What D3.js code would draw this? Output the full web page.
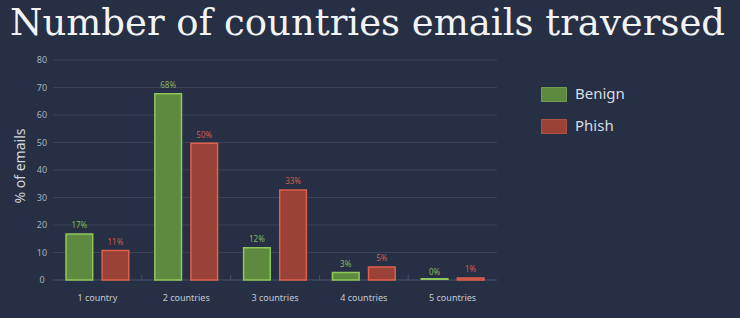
<!DOCTYPE html>
<html>
<head>
<meta charset="utf-8">
<script src="https://cdn.jsdelivr.net/npm/d3@7"></script>
<style>
    html, body { margin: 0; padding: 0; background: #262f44; }
    svg { display: block; }
    .tick-label { font-family: "Noto Sans", sans-serif; font-size: 9px; fill: #a9b1bf; }
    .cat-label { font-family: "Noto Sans", sans-serif; font-size: 9px; fill: #c3c9d3; }
    .value-label { font-family: "Noto Sans", sans-serif; font-size: 8px; }
</style>
</head>
<body>
<div id="chart"></div>
<script>
const categories = ["1 country", "2 countries", "3 countries", "4 countries", "5 countries"];
const series = ["Benign", "Phish"];
const benign = [17, 68, 12, 3, 0];
const phish = [11, 50, 33, 5, 1];
const yTicks = [0, 10, 20, 30, 40, 50, 60, 70, 80];

const fills = { Benign: "#5d8a3f", Phish: "#9b4238" };
const strokes = { Benign: "#8fc85a", Phish: "#e0604c" };
const labelColors = { Benign: "#86b85a", Phish: "#d45a4a" };

const W = 740, H = 318;
const margin = { top: 60, left: 53, bottom: 38, right: 243 };
const width = W - margin.left - margin.right;
const height = H - margin.top - margin.bottom;

const svg = d3.select("#chart").append("svg")
    .attr("width", W)
    .attr("height", H);

svg.append("rect").attr("width", W).attr("height", H).attr("fill", "#262f44");

// Title
svg.append("text")
    .attr("x", 10)
    .attr("y", 35)
    .attr("textLength", 715)
    .attr("lengthAdjust", "spacingAndGlyphs")
    .style("font-family", "'DejaVu Serif', serif")
    .style("font-size", "37px")
    .style("fill", "#f2f3f5")
    .text("Number of countries emails traversed");

const g = svg.append("g").attr("transform", `translate(${margin.left}, ${margin.top})`);

// Scales
const x0 = d3.scaleBand().domain(categories).range([0, width]).padding(0);
const x1 = d3.scaleBand().domain(series).range([0, x0.bandwidth()])
    .paddingInner(0.22).paddingOuter(0.34);
const y = d3.scaleLinear().domain([0, 80]).range([height, 0]);

// Grid lines
g.append("g")
    .selectAll("line")
    .data(yTicks.filter(d => d > 0))
    .join("line")
    .attr("x1", 0).attr("x2", width)
    .attr("y1", d => y(d)).attr("y2", d => y(d))
    .attr("stroke", "#37435a")
    .attr("stroke-width", 1);

// Y tick labels
g.append("g")
    .selectAll("text")
    .data(yTicks)
    .join("text")
    .attr("class", "tick-label")
    .attr("x", -11)
    .attr("y", d => y(d) + 3)
    .attr("text-anchor", "middle")
    .text(d => d);

// Baseline axis
g.append("line")
    .attr("x1", 0).attr("x2", width)
    .attr("y1", y(0)).attr("y2", y(0))
    .attr("stroke", "#46526a")
    .attr("stroke-width", 1);

// Category separator ticks
g.append("g")
    .selectAll("line")
    .data(categories.slice(1))
    .join("line")
    .attr("x1", d => x0(d)).attr("x2", d => x0(d))
    .attr("y1", y(0) - 5).attr("y2", y(0))
    .attr("stroke", "#46526a");

// Category labels
g.append("g")
    .selectAll("text")
    .data(categories)
    .join("text")
    .attr("class", "cat-label")
    .attr("x", d => x0(d) + x0.bandwidth() / 2)
    .attr("y", y(0) + 21)
    .attr("text-anchor", "middle")
    .text(d => d);

// Bars
const rows = categories.map((c, i) => ({
    category: c,
    values: [{ key: "Benign", value: benign[i] }, { key: "Phish", value: phish[i] }]
}));

const groups = g.append("g")
    .selectAll("g")
    .data(rows)
    .join("g")
    .attr("transform", d => `translate(${x0(d.category)}, 0)`);

// Zero-value bars still show as a thin outlined strip, as in the original
groups.selectAll("rect")
    .data(d => d.values)
    .join("rect")
    .attr("x", d => x1(d.key) + 0.75)
    .attr("y", d => Math.min(y(d.value) + 0.75, y(0) - 1.25))
    .attr("width", x1.bandwidth() - 1.5)
    .attr("height", d => Math.max(0.5, y(0) - y(d.value) - 0.75))
    .attr("fill", d => fills[d.key])
    .attr("stroke", d => strokes[d.key])
    .attr("stroke-width", 1.5);

groups.selectAll("text")
    .data(d => d.values)
    .join("text")
    .attr("class", "value-label")
    .attr("x", d => x1(d.key) + x1.bandwidth() / 2)
    .attr("y", d => y(d.value) - 5)
    .attr("text-anchor", "middle")
    .style("fill", d => labelColors[d.key])
    .text(d => d.value + "%");

// Y axis title
svg.append("text")
    .attr("transform", `translate(25, 166) rotate(-90)`)
    .attr("text-anchor", "middle")
    .style("font-family", "'Noto Sans', sans-serif")
    .style("font-size", "14px")
    .style("fill", "#d3d7de")
    .text("% of emails");

// Legend
const legend = svg.append("g")
    .attr("transform", "translate(541, 87)")
    .selectAll("g")
    .data(series)
    .join("g")
    .attr("transform", (d, i) => `translate(0, ${i * 32})`);

legend.append("rect")
    .attr("x", 0.5).attr("y", 0.5)
    .attr("width", 25).attr("height", 14)
    .attr("fill", d => fills[d])
    .attr("stroke", d => strokes[d])
    .attr("stroke-opacity", 0.6);

legend.append("text")
    .attr("x", 34)
    .attr("y", 12)
    .style("font-family", "'Noto Sans', sans-serif")
    .style("font-size", "15px")
    .style("fill", "#d8dce3")
    .text(d => d);
</script>
</body>
</html>
